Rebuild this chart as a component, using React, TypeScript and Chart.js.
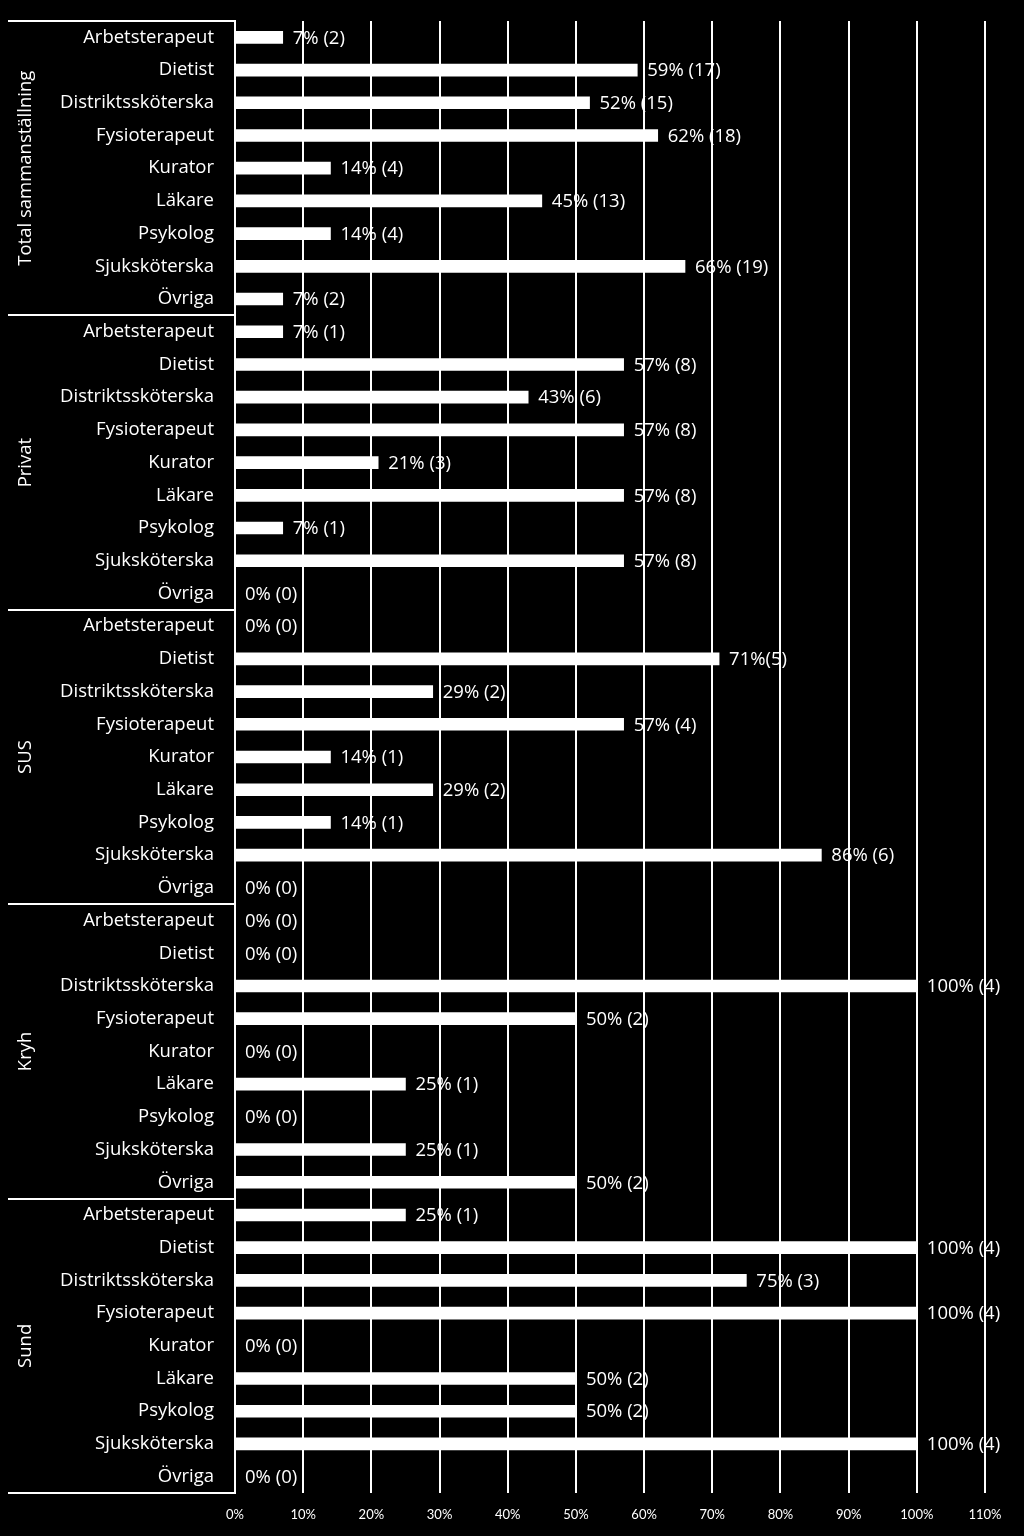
import React, { useEffect, useRef } from "react";
import { Chart, registerables } from "chart.js";

Chart.register(...registerables);

const groups = ["Total sammanställning", "Privat", "SUS", "Kryh", "Sund"];
const roles = [
  "Arbetsterapeut",
  "Dietist",
  "Distriktssköterska",
  "Fysioterapeut",
  "Kurator",
  "Läkare",
  "Psykolog",
  "Sjuksköterska",
  "Övriga",
];

const totalValues = [7, 59, 52, 62, 14, 45, 14, 66, 7];
const totalLabels = ["7% (2)", "59% (17)", "52% (15)", "62% (18)", "14% (4)", "45% (13)", "14% (4)", "66% (19)", "7% (2)"];
const privatValues = [7, 57, 43, 57, 21, 57, 7, 57, 0];
const privatLabels = ["7% (1)", "57% (8)", "43% (6)", "57% (8)", "21% (3)", "57% (8)", "7% (1)", "57% (8)", "0% (0)"];
const susValues = [0, 71, 29, 57, 14, 29, 14, 86, 0];
const susLabels = ["0% (0)", "71%(5)", "29% (2)", "57% (4)", "14% (1)", "29% (2)", "14% (1)", "86% (6)", "0% (0)"];
const kryhValues = [0, 0, 100, 50, 0, 25, 0, 25, 50];
const kryhLabels = ["0% (0)", "0% (0)", "100% (4)", "50% (2)", "0% (0)", "25% (1)", "0% (0)", "25% (1)", "50% (2)"];
const sundValues = [25, 100, 75, 100, 0, 50, 50, 100, 0];
const sundLabels = ["25% (1)", "100% (4)", "75% (3)", "100% (4)", "0% (0)", "50% (2)", "50% (2)", "100% (4)", "0% (0)"];

const xTicks = [0, 10, 20, 30, 40, 50, 60, 70, 80, 90, 100, 110];

const allValues = [...totalValues, ...privatValues, ...susValues, ...kryhValues, ...sundValues];
const allLabels = [...totalLabels, ...privatLabels, ...susLabels, ...kryhLabels, ...sundLabels];
const categories = groups.flatMap(() => roles);

const FONT = "'Open Sans', Lato, sans-serif";
const TICK_FONT = "Lato, 'Open Sans', sans-serif";

const overlayPlugin = {
  id: "overlay",
  afterDraw(chart: any) {
    const ctx = chart.ctx;
    const area = chart.chartArea;
    const yScale = chart.scales.y;
    const meta = chart.getDatasetMeta(0);
    ctx.save();
    ctx.fillStyle = "#ffffff";
    ctx.font = `18.5px ${FONT}`;
    ctx.textAlign = "left";
    ctx.textBaseline = "middle";
    meta.data.forEach((bar: any, i: number) => {
      ctx.fillText(allLabels[i], bar.x + 10, bar.y + 1);
    });
    const n = roles.length;
    ctx.strokeStyle = "#ffffff";
    ctx.lineWidth = 2;
    const boundaries: number[] = [];
    for (let g = 0; g <= groups.length; g++) {
      let y: number;
      if (g === 0) y = area.top;
      else if (g === groups.length) y = area.bottom;
      else {
        const a = yScale.getPixelForValue(g * n - 1);
        const b = yScale.getPixelForValue(g * n);
        y = (a + b) / 2;
      }
      boundaries.push(y);
      ctx.beginPath();
      ctx.moveTo(8, Math.round(y));
      ctx.lineTo(area.left, Math.round(y));
      ctx.stroke();
    }
    ctx.font = `18.5px ${FONT}`;
    ctx.textAlign = "center";
    ctx.textBaseline = "middle";
    for (let g = 0; g < groups.length; g++) {
      const cy = (boundaries[g] + boundaries[g + 1]) / 2;
      ctx.save();
      ctx.translate(26, cy);
      ctx.rotate(-Math.PI / 2);
      ctx.fillText(groups[g], 0, 0);
      ctx.restore();
    }
    ctx.restore();
  },
};

export default function App() {
  const ref = useRef<HTMLCanvasElement | null>(null);
  useEffect(() => {
    document.body.style.background = "#000";
    const chart = new Chart(ref.current as HTMLCanvasElement, {
      type: "bar",
      data: {
        labels: categories,
        datasets: [
          {
            data: allValues,
            backgroundColor: "#ffffff",
            borderWidth: 0,
            barThickness: 12,
          },
        ],
      },
      options: {
        indexAxis: "y",
        responsive: false,
        animation: false,
        maintainAspectRatio: false,
        layout: { padding: { left: 0, right: 39, top: 21, bottom: 0 } },
        plugins: {
          legend: { display: false },
          tooltip: { enabled: false },
        },
        scales: {
          x: {
            min: 0,
            max: 110,
            afterBuildTicks: (scale: any) => {
              scale.ticks = xTicks.map((v) => ({ value: v }));
            },
            afterFit: (scale: any) => {
              scale.height = 43;
              scale.paddingLeft = 0;
              scale.paddingRight = 0;
            },
            grid: { color: "#ffffff", lineWidth: 2, drawTicks: false },
            border: { display: false },
            ticks: {
              color: "#ffffff",
              padding: 14,
              font: { family: TICK_FONT, size: 13 },
              callback: (v: any) => `${v}%`,
              maxRotation: 0,
            },
          },
          y: {
            afterFit: (scale: any) => {
              scale.width = 235;
              scale.paddingTop = 0;
              scale.paddingBottom = 0;
            },
            grid: { display: false, drawTicks: false },
            border: { display: true, color: "#ffffff", width: 2 },
            ticks: {
              color: "#ffffff",
              padding: 21,
              autoSkip: false,
              font: { family: FONT, size: 18.5 },
            },
          },
        },
      },
      plugins: [overlayPlugin],
    });
    return () => chart.destroy();
  }, []);
  return (
    <div style={{ position: "absolute", left: 0, top: 0, width: 1024, height: 1536, background: "#000" }}>
      <canvas ref={ref} width={1024} height={1536} style={{ display: "block" }} />
    </div>
  );
}
